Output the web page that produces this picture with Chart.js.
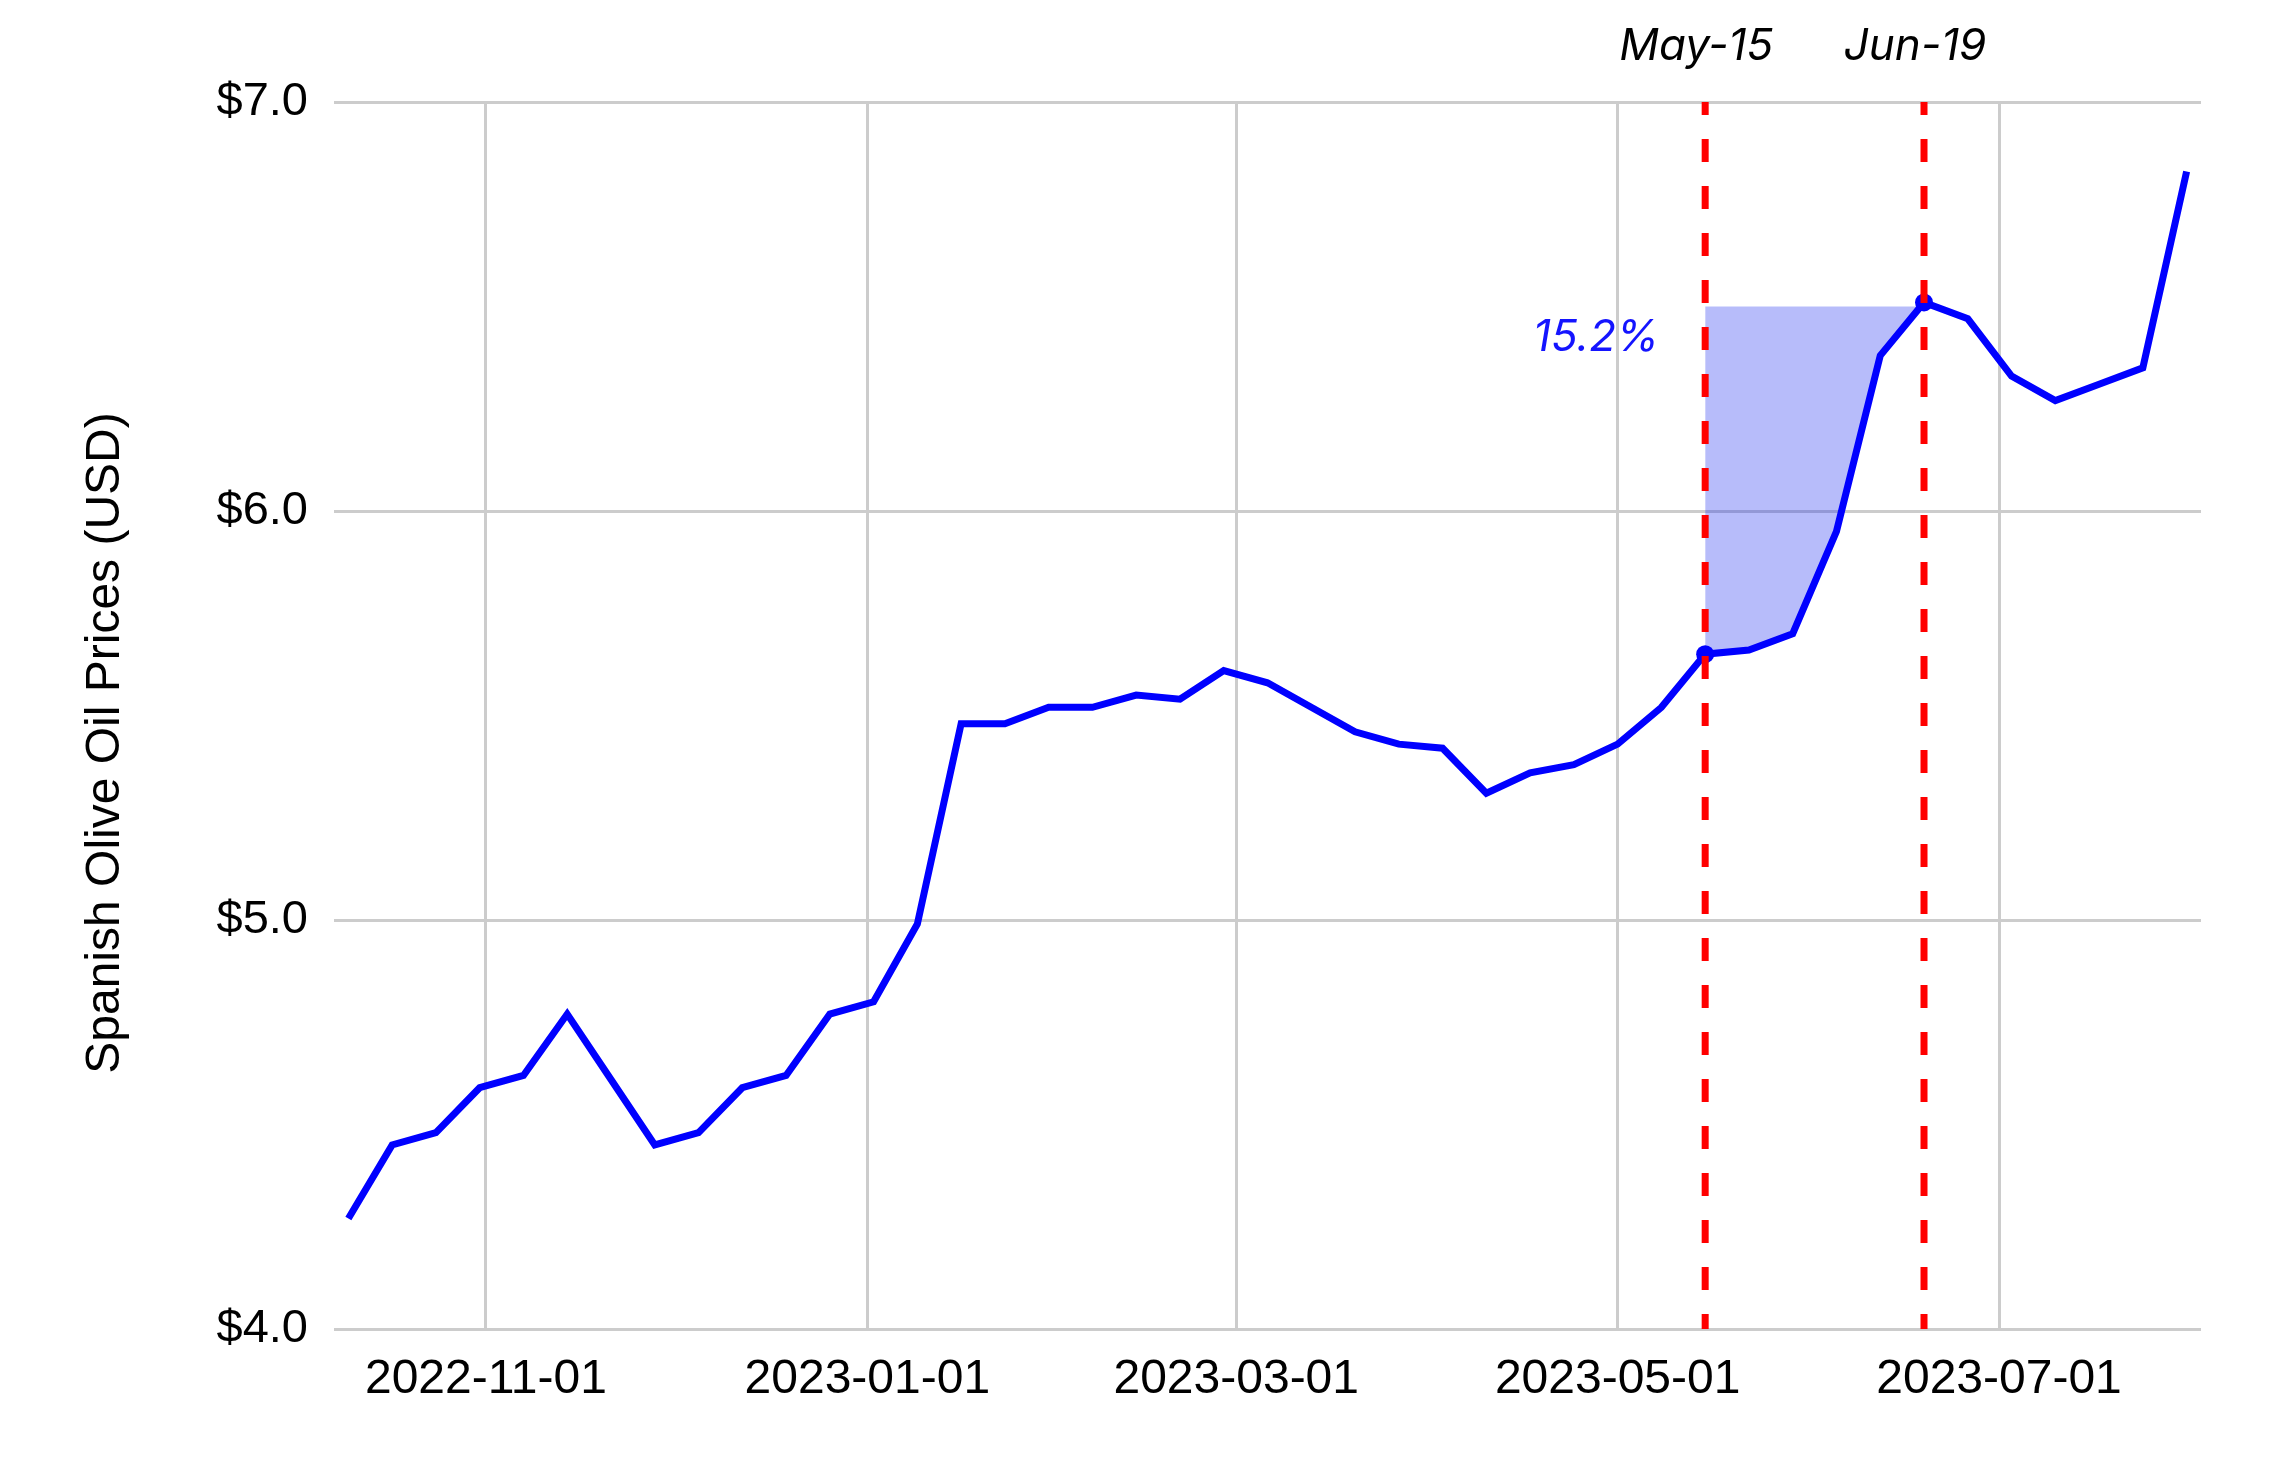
<!DOCTYPE html>
<html>
<head>
<meta charset="utf-8">
<script src="https://cdn.jsdelivr.net/npm/chart.js@4.4.0/dist/chart.umd.min.js"></script>
<style>
html,body{margin:0;padding:0;background:#ffffff;}
#wrap{width:2276px;height:1484px;position:relative;}
</style>
</head>
<body>
<div id="wrap"><canvas id="c" width="2276" height="1484"></canvas></div>
<script>
// ---- data ----
const weekDates = [
  '2022-10-10','2022-10-17','2022-10-24','2022-10-31','2022-11-07','2022-11-14','2022-11-21','2022-11-28',
  '2022-12-05','2022-12-12','2022-12-19','2022-12-26','2023-01-02','2023-01-09','2023-01-16','2023-01-23',
  '2023-01-30','2023-02-06','2023-02-13','2023-02-20','2023-02-27','2023-03-06','2023-03-13','2023-03-20',
  '2023-03-27','2023-04-03','2023-04-10','2023-04-17','2023-04-24','2023-05-01','2023-05-08','2023-05-15',
  '2023-05-22','2023-05-29','2023-06-05','2023-06-12','2023-06-19','2023-06-26','2023-07-03','2023-07-10',
  '2023-07-17','2023-07-24','2023-07-31'
];
const prices = [
  4.27, 4.45, 4.48, 4.59, 4.62, 4.77, 4.61, 4.45,
  4.48, 4.59, 4.62, 4.77, 4.80, 4.99, 5.48, 5.48,
  5.52, 5.52, 5.55, 5.54, 5.61, 5.58, 5.52, 5.46,
  5.43, 5.42, 5.31, 5.36, 5.38, 5.43, 5.52, 5.65,
  5.66, 5.70, 5.95, 6.38, 6.51, 6.47, 6.33, 6.27,
  6.31, 6.35, 6.83
];
const xTickDates = ['2022-11-01','2023-01-01','2023-03-01','2023-05-01','2023-07-01'];
const yTickValues = [4, 5, 6, 7];
const markDates = ['2023-05-15','2023-06-19'];
const markLabels = ['May-15','Jun-19'];
const shadeTop = 6.50;
const yTitle = 'Spanish Olive Oil Prices (USD)';

// ---- helpers ----
function day(s){ const p = s.split('-').map(Number); return Date.UTC(p[0], p[1]-1, p[2]) / 86400000; }
function fmt(v){ return new Date(Math.round(v) * 86400000).toISOString().slice(0, 10); }

const series = weekDates.map((d, i) => ({x: day(d), y: prices[i]}));
const m0 = day(markDates[0]), m1 = day(markDates[1]);
const shade = series.filter(p => p.x >= m0 && p.x <= m1);
const startVal = series.find(p => p.x === m0).y;
const endVal = series.find(p => p.x === m1).y;
const pctText = ((endVal / startVal - 1) * 100).toFixed(1) + '%';
const pointR = series.map(p => (p.x === m0 || p.x === m1) ? 9 : 0);
const yMin = yTickValues[0], yMax = yTickValues[yTickValues.length - 1];
const pad = 2.3;
const xMin = series[0].x - pad, xMax = series[series.length - 1].x + pad;

const SANS = '"Liberation Sans", Arial, sans-serif';
const ANN = 'Inter, "Noto Sans", sans-serif';

const redLines = markDates.map(d => ({
  data: [{x: day(d), y: yMax}, {x: day(d), y: yMin}],
  borderColor: '#ff0000',
  borderWidth: 7,
  borderDash: [23, 24],
  borderDashOffset: 10,
  borderCapStyle: 'butt',
  pointRadius: 0,
  fill: false,
  order: 0
}));

const annotations = {
  id: 'annotations',
  afterDatasetsDraw(chart) {
    const ctx = chart.ctx, xs = chart.scales.x, ys = chart.scales.y;
    ctx.save();
    ctx.font = 'italic 44px ' + ANN;
    ctx.fillStyle = '#000000';
    ctx.textAlign = 'center';
    ctx.textBaseline = 'alphabetic';
    markDates.forEach((d, i) => {
      ctx.fillText(markLabels[i], xs.getPixelForValue(day(d)) - 9, 60);
    });
    ctx.fillStyle = '#1414ff';
    ctx.textAlign = 'right';
    ctx.fillText(pctText, xs.getPixelForValue(m0) - 46, ys.getPixelForValue(shadeTop) + 44);
    ctx.restore();
  },
  afterDraw(chart) {
    const ctx = chart.ctx;
    ctx.save();
    ctx.font = '48px ' + SANS;
    ctx.fillStyle = '#000000';
    ctx.textAlign = 'center';
    ctx.textBaseline = 'alphabetic';
    ctx.translate(119, 743);
    ctx.rotate(-Math.PI / 2);
    ctx.fillText(yTitle, 0, 0);
    ctx.restore();
  }
};

Chart.defaults.font.family = SANS;
Chart.defaults.color = '#000000';

new Chart(document.getElementById('c'), {
  type: 'line',
  data: {
    datasets: [
      ...redLines,
      {
        data: series,
        borderColor: '#0000ff',
        backgroundColor: '#0000ff',
        borderWidth: 7,
        pointRadius: pointR,
        pointBorderWidth: 0,
        pointBackgroundColor: '#0000ff',
        tension: 0,
        fill: false,
        order: 1
      },
      {
        data: shade,
        borderWidth: 0,
        borderColor: 'rgba(0,0,0,0)',
        pointRadius: 0,
        backgroundColor: 'rgba(18,32,238,0.30)',
        fill: {value: shadeTop},
        order: 2
      }
    ]
  },
  options: {
    responsive: false,
    animation: false,
    devicePixelRatio: 1,
    layout: {padding: {top: 102, right: 75, left: 0, bottom: 0}},
    plugins: {legend: {display: false}, tooltip: {enabled: false}},
    scales: {
      x: {
        type: 'linear',
        min: xMin,
        max: xMax,
        afterFit(s) { s.height = 155; },
        afterBuildTicks(s) { s.ticks = xTickDates.map(d => ({value: day(d)})); },
        grid: {color: '#cccccc', lineWidth: 3, drawTicks: false},
        border: {display: false},
        ticks: {
          autoSkip: false, maxRotation: 0, padding: 22,
          font: {size: 48, family: SANS}, color: '#000000',
          callback: v => fmt(v)
        }
      },
      y: {
        type: 'linear',
        min: yMin,
        max: yMax,
        afterFit(s) { s.width = 334; },
        afterBuildTicks(s) { s.ticks = yTickValues.map(v => ({value: v})); },
        grid: {color: '#cccccc', lineWidth: 3, drawTicks: false},
        border: {display: false},
        ticks: {
          padding: 26,
          font: {size: 47, family: SANS}, color: '#000000',
          callback: v => '$' + Number(v).toFixed(1)
        }
      }
    }
  },
  plugins: [annotations]
});
</script>
</body>
</html>
